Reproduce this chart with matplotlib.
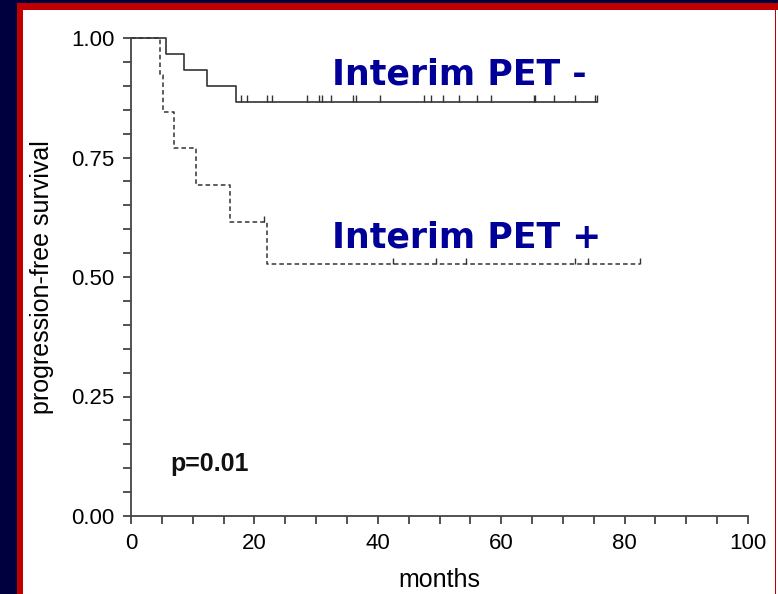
import matplotlib.pyplot as plt
from matplotlib.patches import Rectangle
from matplotlib.ticker import MultipleLocator, FormatStrFormatter

# Kaplan-Meier steps (months, survival)
neg_times = [0, 5.7, 8.6, 12.3, 17.0, 75.5]
neg_surv = [1.0, 0.967, 0.933, 0.900, 0.867, 0.867]
neg_censor = [17.8, 18.8, 22.1, 22.8, 28.6, 30.4, 30.9, 32.4, 36.0, 36.5, 40.4,
              47.5, 48.7, 50.6, 53.1, 56.1, 58.4, 65.3, 65.5, 68.6, 71.9, 75.2, 75.5]

pos_times = [0, 4.7, 5.2, 6.9, 10.5, 16.0, 22.0, 82.5]
pos_surv = [1.0, 0.923, 0.846, 0.769, 0.692, 0.615, 0.527, 0.527]
pos_censor = [21.6, 42.5, 49.5, 54.3, 72.0, 74.1, 82.5]
pos_censor_surv = [0.615, 0.527, 0.527, 0.527, 0.527, 0.527, 0.527]

x_ticks = [0, 20, 40, 60, 80, 100]
y_ticks = [0.0, 0.25, 0.5, 0.75, 1.0]

NAVY = "#00003f"
RED = "#c00000"
LINE = "#333333"
BLUE = "#000099"

plt.rcParams["font.family"] = ["Liberation Sans", "DejaVu Sans"]

W, H = 778, 594
fig = plt.figure(figsize=(W / 100, H / 100), dpi=100, facecolor=NAVY)

# slide frame: navy background, red border, white panel
frame = [
    ((17 / W, 0), 1 - 17 / W, 1 - 3 / H, RED),
    ((23 / W, 0), 752 / W, 1 - 10 / H, "white"),
    ((776 / W, 0), 2 / W, 1 - 10 / H, "white"),
]
for xy, w, h, c in frame:
    fig.add_artist(Rectangle(xy, w, h, transform=fig.transFigure,
                             facecolor=c, edgecolor="none", zorder=-10))

ax = fig.add_axes([131 / W, 1 - 516 / H, 617 / W, 478 / H])
ax.set_zorder(5)
ax.set_facecolor("none")

ax.step(neg_times, neg_surv, where="post", color=LINE, lw=1.2, clip_on=False)
ax.vlines(neg_censor, 0.867, 0.867 + 0.014, color=LINE, lw=1.0)

ax.step(pos_times, pos_surv, where="post", color=LINE, lw=1.1, dashes=(3, 2), clip_on=False)
ax.vlines(pos_censor, pos_censor_surv, [v + 0.012 for v in pos_censor_surv], color=LINE, lw=1.0)

ax.set_xlim(0, 100)
ax.set_ylim(0, 1)
for side in ["top", "right"]:
    ax.spines[side].set_visible(False)
for side in ["left", "bottom"]:
    ax.spines[side].set_color("#444444")
    ax.spines[side].set_linewidth(1.3)

ax.set_xticks(x_ticks)
ax.set_yticks(y_ticks)
ax.xaxis.set_minor_locator(MultipleLocator(5))
ax.yaxis.set_minor_locator(MultipleLocator(0.05))
ax.yaxis.set_major_formatter(FormatStrFormatter("%.2f"))
ax.tick_params(which="both", direction="out", length=6, width=1.3, color="#444444")
ax.tick_params(axis="x", labelsize=16, pad=6)
ax.tick_params(axis="y", labelsize=16, pad=6)

ax.set_xlabel("months", fontsize=18, labelpad=10)
ax.set_ylabel("progression-free survival", fontsize=18, labelpad=12)

ax.text(32.6, 0.902, "Interim PET -", fontsize=25, fontweight="bold", color=BLUE,
        family="DejaVu Sans")
ax.text(32.6, 0.561, "Interim PET +", fontsize=25, fontweight="bold", color=BLUE,
        family="DejaVu Sans")
ax.text(6.3, 0.094, "p=0.01", fontsize=18, fontweight="bold", color="#111111")

fig.savefig("out.png", dpi=100, facecolor=NAVY)
